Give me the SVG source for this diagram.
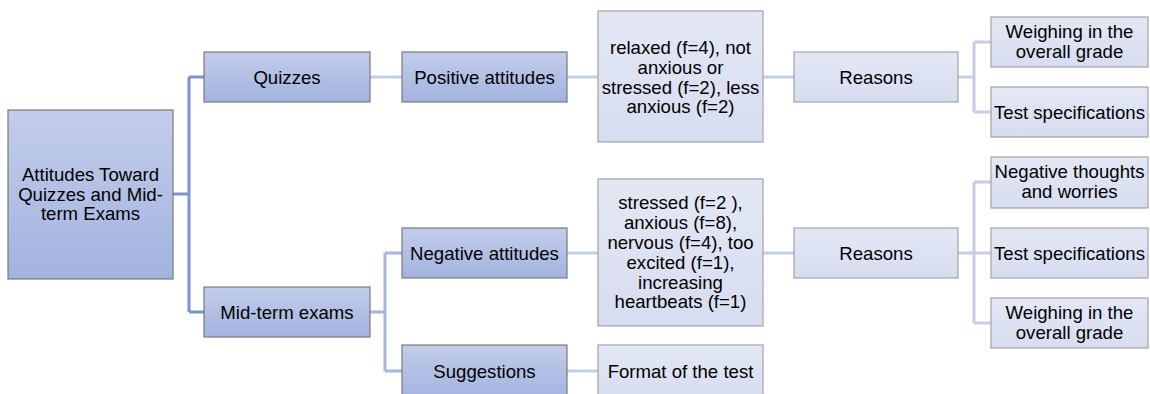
<svg xmlns="http://www.w3.org/2000/svg" width="1150" height="394" viewBox="0 0 1150 394">
<defs>
<linearGradient id="gd" x1="0" y1="0" x2="0" y2="1"><stop offset="0" stop-color="#c3cdea"/><stop offset="1" stop-color="#a2b3df"/></linearGradient>
<linearGradient id="gl" x1="0" y1="0" x2="0" y2="1"><stop offset="0" stop-color="#e4e8f5"/><stop offset="1" stop-color="#d6ddf0"/></linearGradient>
</defs>
<style>
.d{fill:url(#gd);stroke:#7a7a7a;stroke-width:1.2}
.l{fill:url(#gl);stroke:#a3a3a3;stroke-width:1.2}
text{font-family:"Liberation Sans",Arial,sans-serif;font-size:18.6px;fill:#000;text-anchor:middle}
.c1{fill:none;stroke:#7b93d3;stroke-width:3}
.c2{fill:none;stroke:#a5b5e0;stroke-width:3}
.c3{fill:none;stroke:#c5cee8;stroke-width:3}
</style>
<g id="connectors">
<path class="c1" d="M173,194H189M189,77V312M189,77H204M189,312H204"/>
<path class="c2" d="M370,312H385M385,253V371M385,253H402M385,371H402"/>
<path class="c3" d="M370,77H402M567,77H598M763,77H794M958,77H974M974,42V112M974,42H991M974,112H991"/>
<path class="c3" d="M567,253H598M763,253H794M958,253H974M974,182V323M974,182H991M974,253H991M974,323H991"/>
<path class="c3" d="M567,371H598"/>
</g>
<g id="root"><rect class="d" x="8" y="110" width="165" height="169"/>
<text x="90.5" y="181">Attitudes Toward</text><text x="90.5" y="200.5">Quizzes and Mid-</text><text x="90.5" y="220">term Exams</text></g>
<g id="quizzes"><rect class="d" x="204" y="52" width="166" height="50"/><text x="287" y="83.5">Quizzes</text></g>
<g id="midterm"><rect class="d" x="204" y="287" width="166" height="50"/><text x="287" y="318.5">Mid-term exams</text></g>
<g id="positive"><rect class="d" x="402" y="52" width="165" height="50"/><text x="484.5" y="83.5">Positive attitudes</text></g>
<g id="negative"><rect class="d" x="402" y="228" width="165" height="50"/><text x="484.5" y="259.5">Negative attitudes</text></g>
<g id="suggestions"><rect class="d" x="402" y="345" width="165" height="54"/><text x="484.5" y="377.5">Suggestions</text></g>
<g id="relaxed"><rect class="l" x="598" y="11" width="165" height="131"/>
<text x="680.5" y="54">relaxed (f=4), not</text><text x="680.5" y="74">anxious or</text><text x="680.5" y="93.5">stressed (f=2), less</text><text x="680.5" y="113">anxious (f=2)</text></g>
<g id="stressed"><rect class="l" x="598" y="179" width="165" height="147"/>
<text x="680.5" y="209">stressed (f=2 ),</text><text x="680.5" y="229">anxious (f=8),</text><text x="680.5" y="249">nervous (f=4), too</text><text x="680.5" y="269">excited (f=1),</text><text x="680.5" y="288.5">increasing</text><text x="680.5" y="308">heartbeats (f=1)</text></g>
<g id="format"><rect class="l" x="598" y="345" width="165" height="54"/><text x="680.5" y="377.5">Format of the test</text></g>
<g id="reasons1"><rect class="l" x="794" y="52" width="164" height="50"/><text x="876" y="83.5">Reasons</text></g>
<g id="reasons2"><rect class="l" x="794" y="228" width="164" height="50"/><text x="876" y="259.5">Reasons</text></g>
<g id="weigh1"><rect class="l" x="991" y="17" width="157" height="50"/><text x="1069.5" y="38">Weighing in the</text><text x="1069.5" y="57.5">overall grade</text></g>
<g id="test1"><rect class="l" x="991" y="87" width="157" height="50"/><text x="1069.5" y="118.5">Test specifications</text></g>
<g id="negthoughts"><rect class="l" x="991" y="157" width="157" height="51"/><text x="1069.5" y="178">Negative thoughts</text><text x="1069.5" y="197.5">and worries</text></g>
<g id="test2"><rect class="l" x="991" y="228" width="157" height="50"/><text x="1069.5" y="259.5">Test specifications</text></g>
<g id="weigh2"><rect class="l" x="991" y="298" width="157" height="50"/><text x="1069.5" y="319">Weighing in the</text><text x="1069.5" y="338.5">overall grade</text></g>
</svg>
